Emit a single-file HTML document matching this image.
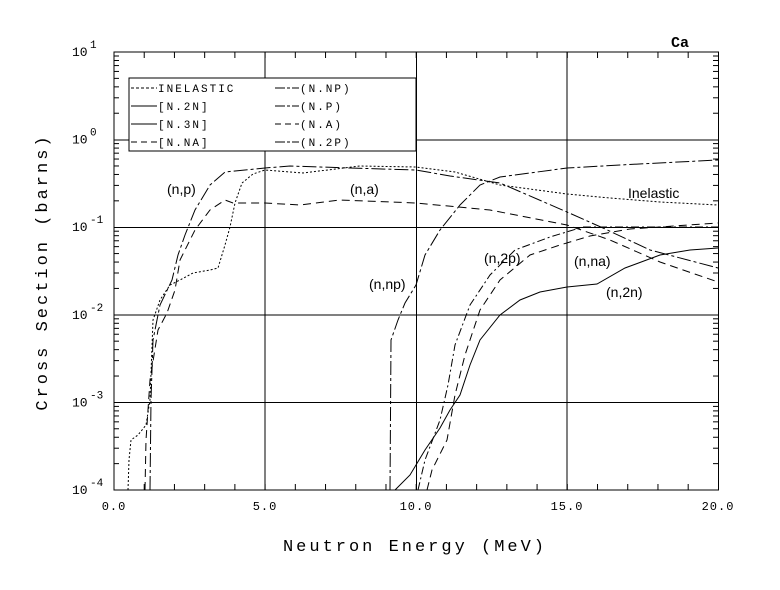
<!DOCTYPE html>
<html><head><meta charset="utf-8"><style>
body{margin:0;background:#fff}
svg{display:block}
text{font-family:"Liberation Mono",monospace}
.s{font-family:"Liberation Sans",sans-serif;font-size:14px}
</style></head><body>
<svg id="g" width="780" height="590" xmlns="http://www.w3.org/2000/svg">
<rect width="780" height="590" fill="#fff"/>
<g stroke="#000" stroke-width="1" fill="none" id="ax">
<rect x="114" y="52" width="604.5" height="438"/>
<line x1="265" y1="52" x2="265" y2="490"/>
<line x1="416.5" y1="52" x2="416.5" y2="490"/>
<line x1="567" y1="52" x2="567" y2="490"/>
<line x1="114" y1="140" x2="718" y2="140"/>
<line x1="114" y1="227.5" x2="718" y2="227.5"/>
<line x1="114" y1="315" x2="718" y2="315"/>
<line x1="114" y1="402.5" x2="718" y2="402.5"/>
</g>
<g fill="none" stroke="#000" stroke-width="1">
<polyline stroke-dasharray="2,2" points="128,490 129,460 131,440 138,435 146,425 150,400 153,320 160,300 170,285 180,280 193,273 210,270 218,268 225,245 230,227 235,203 242,183 253,174 265,170 303,173 360,166 416,167 455,172 500,185 567,194 610,198 660,202 718,205"/>
<polyline stroke-dasharray="14,3,3,3" points="150,490 151,400 153,340 160,305 172,280 178,255 185,235 195,210 210,185 225,172 235,171 265,168 290,166 320,167 350,168 416,170 450,176 500,183 567,212 603,228 650,250 718,268"/>
<polyline stroke-dasharray="8,5" points="145,490 146,440 150,380 158,330 167,313 175,290 180,260 195,230 210,210 225,200 233,203 265,203 300,205 340,200 416,203 490,210 567,225 610,240 660,262 718,282"/>
<polyline stroke-dasharray="14,3,3,3" points="390,490 391,340 398,320 405,303 416,285 425,255 440,230 460,205 480,185 500,177 567,168 620,165 718,160"/>
<polyline stroke-dasharray="8,3,2,3" points="418,490 425,460 440,420 448,385 455,345 470,305 490,275 515,250 550,237 583,227 603,227 718,227"/>
<polyline stroke-dasharray="8,5" points="427,490 432,470 447,440 455,395 465,355 480,310 500,280 530,255 560,245 590,236 630,229 718,223"/>
<polyline points="395,490 410,475 425,450 440,428 450,410 460,395 470,365 480,340 500,315 520,300 540,292 567,287 597,284 625,268 660,255 690,250 718,248"/>
</g>
<rect x="129" y="78" width="287" height="73" fill="#fff" stroke="#000"/>
<g font-size="11" letter-spacing="2" fill="#000">
<text x="158" y="92">INELASTIC</text>
<text x="158" y="110">[N.2N]</text>
<text x="158" y="128">[N.3N]</text>
<text x="158" y="146">[N.NA]</text>
<text x="300" y="92">(N.NP)</text>
<text x="300" y="110">(N.P)</text>
<text x="300" y="128">(N.A)</text>
<text x="300" y="146">(N.2P)</text>
</g>
<g stroke="#000" fill="none">
<line x1="131" y1="88" x2="157" y2="88" stroke-dasharray="3,2"/>
<line x1="131" y1="106" x2="157" y2="106"/>
<line x1="131" y1="124" x2="157" y2="124"/>
<line x1="131" y1="142" x2="157" y2="142" stroke-dasharray="6,4"/>
<line x1="275" y1="88" x2="299" y2="88" stroke-dasharray="10,2,3,2"/>
<line x1="275" y1="106" x2="299" y2="106" stroke-dasharray="10,2,3,2"/>
<line x1="275" y1="124" x2="299" y2="124" stroke-dasharray="6,4"/>
<line x1="275" y1="142" x2="299" y2="142" stroke-dasharray="10,2,3,2"/>
</g>
<g>
<text class="s" x="167" y="194">(n,p)</text>
<text class="s" x="350" y="194">(n,a)</text>
<text class="s" x="628" y="198">Inelastic</text>
<text class="s" x="484" y="263">(n,2p)</text>
<text class="s" x="574" y="266">(n,na)</text>
<text class="s" x="606" y="297">(n,2n)</text>
<text class="s" x="369" y="289">(n,np)</text>
</g>
<text x="671" y="47" font-family="Liberation Sans,sans-serif" font-weight="bold" font-size="15">Ca</text>
<g font-size="12" letter-spacing="1">
<text x="114" y="510" text-anchor="middle">0.0</text>
<text x="265" y="510" text-anchor="middle">5.0</text>
<text x="416" y="510" text-anchor="middle">10.0</text>
<text x="567" y="510" text-anchor="middle">15.0</text>
<text x="718" y="510" text-anchor="middle">20.0</text>
</g>
<g id="yl" font-size="13"></g>
<text x="415" y="551" text-anchor="middle" font-size="17" letter-spacing="3">Neutron Energy (MeV)</text>
<text transform="translate(47,272) rotate(-90)" text-anchor="middle" font-size="17" letter-spacing="3">Cross Section (barns)</text>
</svg>
<script>
var g=document.getElementById('g'),ns='http://www.w3.org/2000/svg';
function L(a,b,c,d){var l=document.createElementNS(ns,'line');l.setAttribute('x1',a);l.setAttribute('y1',b);l.setAttribute('x2',c);l.setAttribute('y2',d);l.setAttribute('stroke','#000');g.appendChild(l);}
for(var i=1;i<20;i++){var x=114+i*30.22;L(x,490,x,484);L(x,52,x,58);}
for(var d=0;d<5;d++){var y0=490-d*87.6;for(var k=2;k<10;k++){var y=y0-87.6*Math.log10(k);L(114,y,119,y);L(718,y,713,y);}}
var yl=document.getElementById('yl');
for(var d=0;d<6;d++){var y=490-d*87.6;var t=document.createElementNS(ns,'text');t.setAttribute('x',72);t.setAttribute('y',y+4);t.textContent='10';yl.appendChild(t);
var s=document.createElementNS(ns,'text');s.setAttribute('x',90);s.setAttribute('y',y-4);s.setAttribute('font-size','11');s.textContent=(d-4)==0?'0':(d-4>0?''+(d-4):'-'+(4-d));yl.appendChild(s);}
</script>
</body></html>
